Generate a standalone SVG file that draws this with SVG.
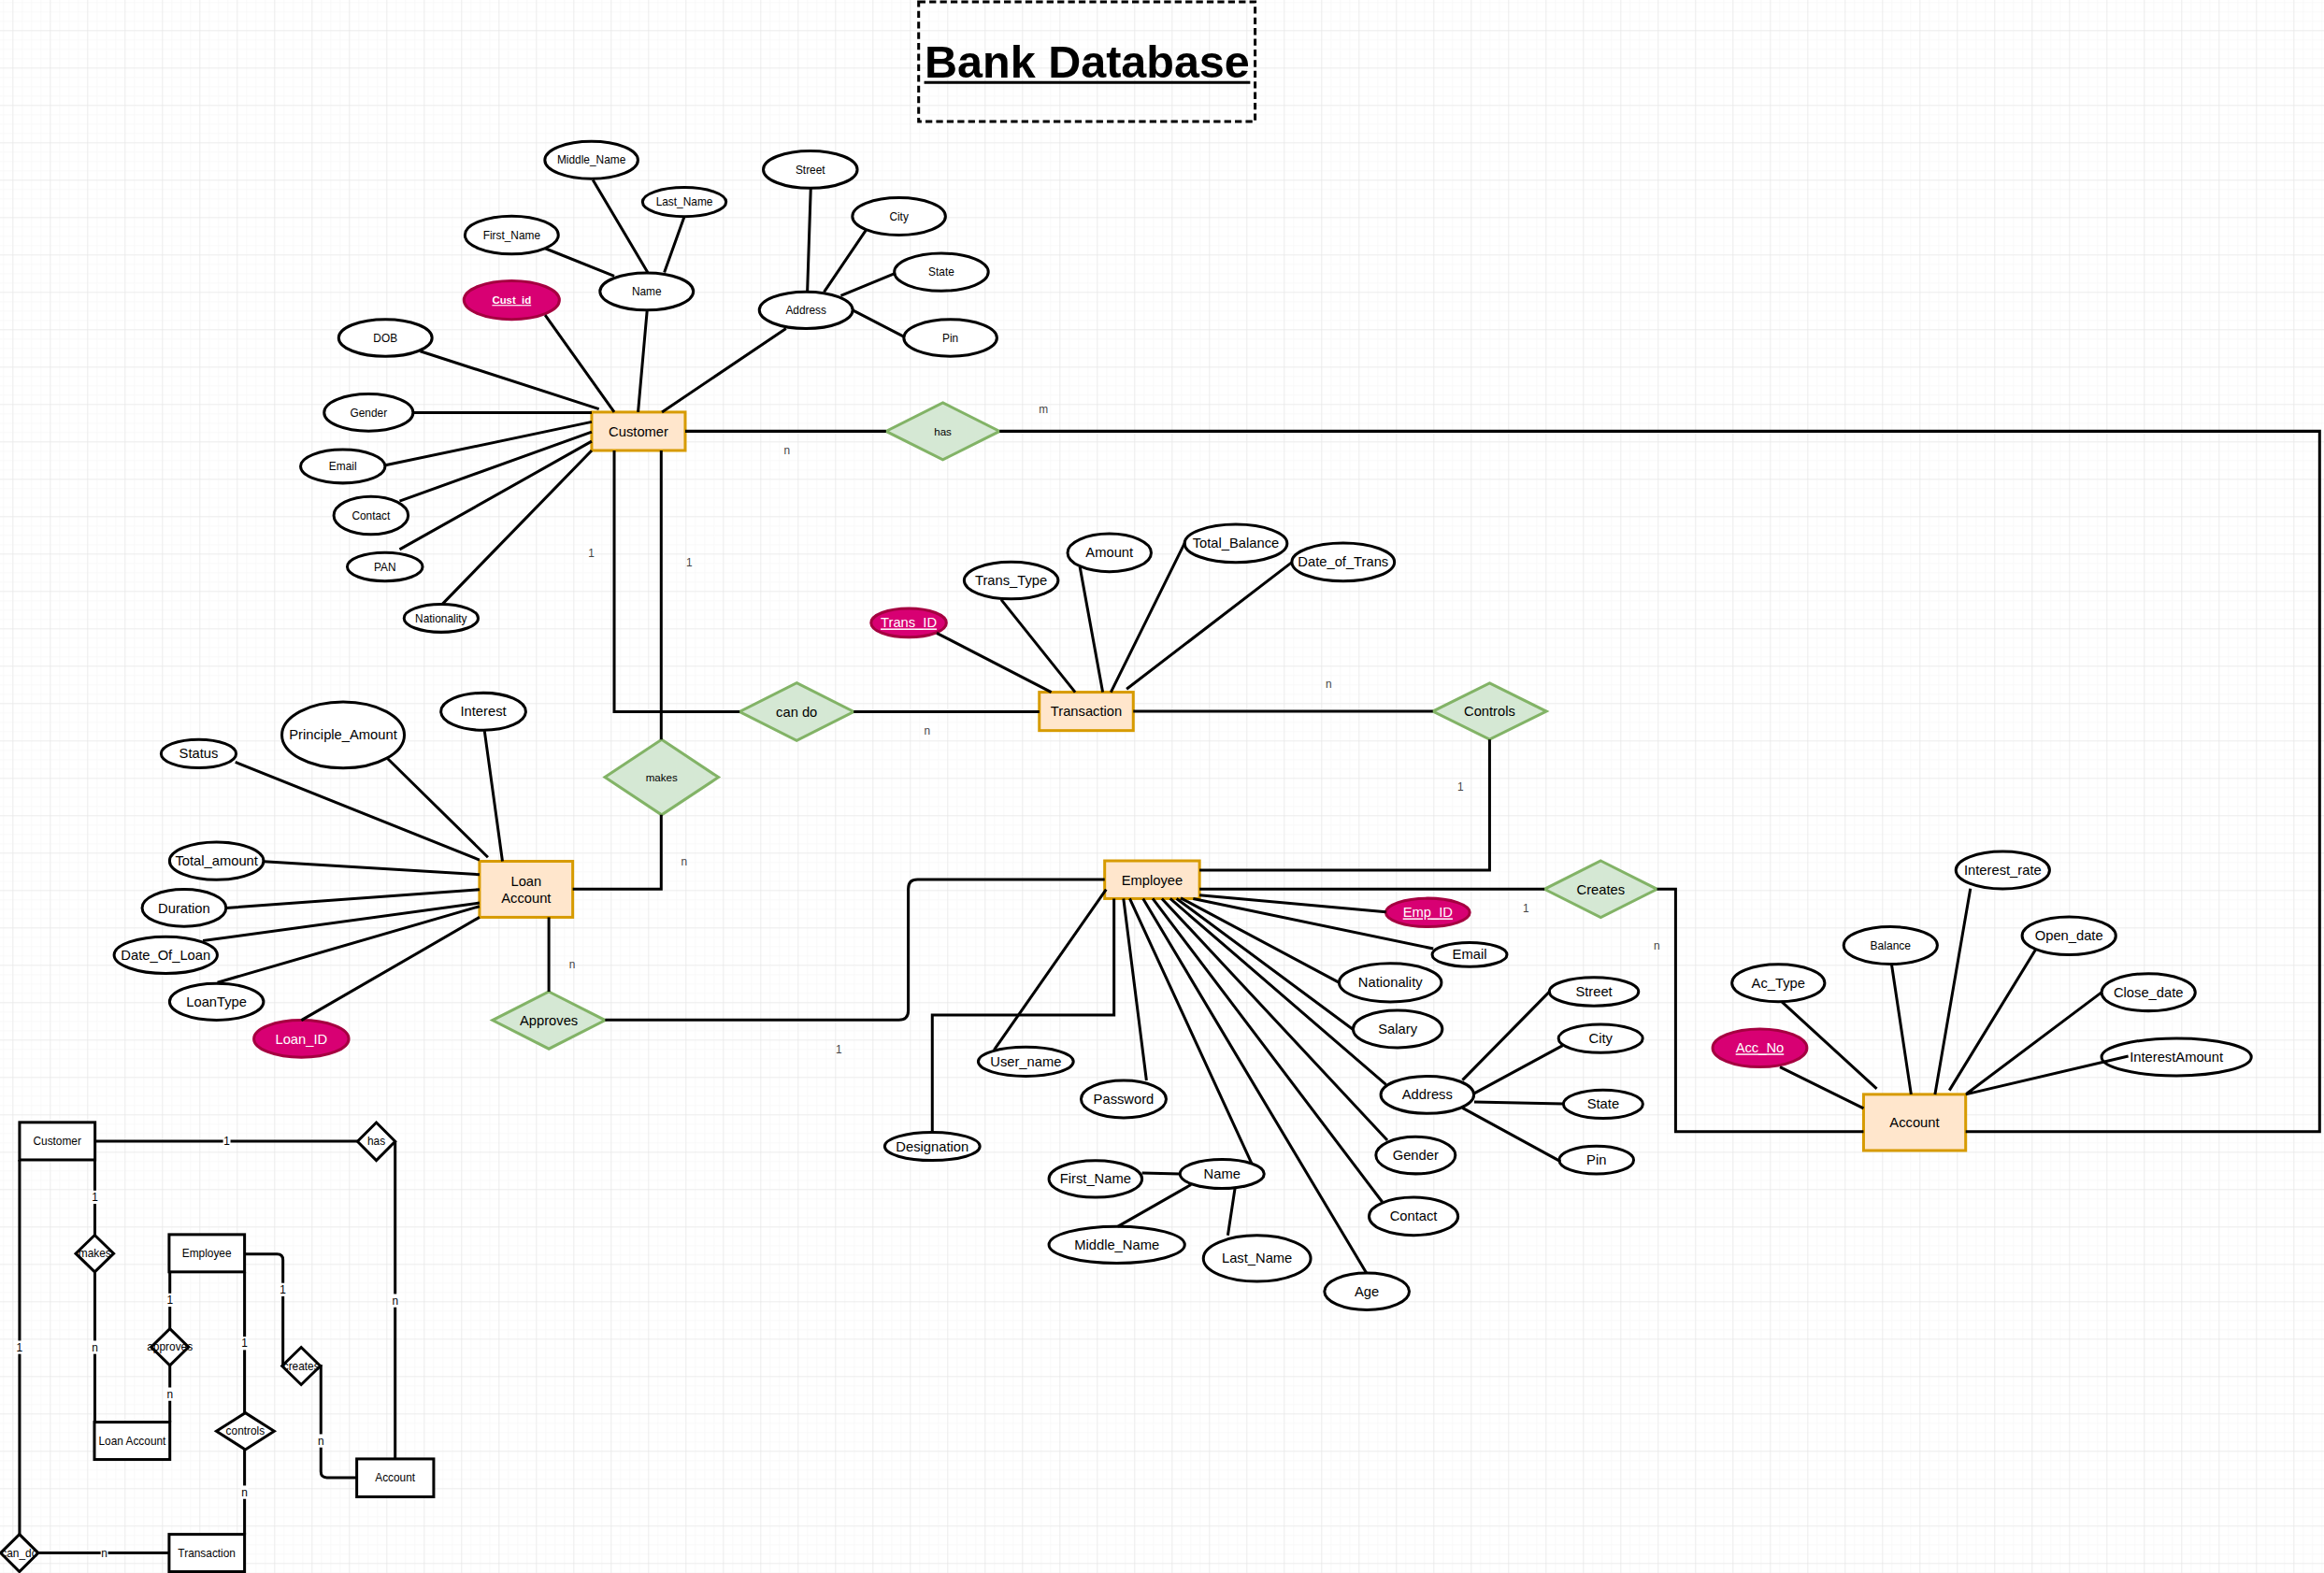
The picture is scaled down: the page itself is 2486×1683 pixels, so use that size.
<svg xmlns="http://www.w3.org/2000/svg" width="2486" height="1683" viewBox="0 0 2486 1683">
<style>
.ent{fill:#ffe6cc;stroke:#d79b00;stroke-width:1.9}
.at{fill:#fff;stroke:#000;stroke-width:1.9}
.key{fill:#d80073;stroke:#a50040;stroke-width:1.9}
.rel{fill:#d5e8d4;stroke:#82b366;stroke-width:1.9}
.box{fill:#fff;stroke:#000;stroke-width:1.9}
.ln{fill:none;stroke:#000;stroke-width:1.9}
text{font-family:"Liberation Sans",Arial,Helvetica,sans-serif;text-anchor:middle;fill:#000}
.s{font-size:7.5px}
.m{font-size:9.3px}
.k{fill:#fff;text-decoration:underline}
.lb{font-size:7.5px;fill:#444}
.lbb{fill:#fff}
</style>
<defs>
<pattern id="minor" width="10" height="10" patternUnits="userSpaceOnUse" x="3.3" y="2.3"><path d="M10 0H0V10" fill="none" stroke="#f3f3f3" stroke-width="1"/></pattern>
<pattern id="major" width="40" height="40" patternUnits="userSpaceOnUse" x="13.3" y="32.3"><path d="M40 0H0V40" fill="none" stroke="#e2e2e2" stroke-width="1"/></pattern>
</defs>
<rect width="2486" height="1683" fill="#fff"/>
<rect width="2486" height="1683" fill="url(#minor)"/>
<rect width="2486" height="1683" fill="url(#major)"/>
<g transform="scale(1.5855)">
<g id="title">
<rect x="619.8" y="1.2" width="227" height="80.8" fill="none" stroke="#000" stroke-width="1.9" stroke-dasharray="4.6 2.6"/>
<text x="733.5" y="52.5" style="font-size:30.6px;font-weight:bold">Bank Database</text>
<line x1="623.5" y1="55.7" x2="843.5" y2="55.7" stroke="#000" stroke-width="1.9"/>
</g>
<!-- Customer -->
<g id="customer"><rect class="ent" x="399.2" y="278.1" width="63.1" height="25.9"/><text class="m" x="430.8" y="294.3">Customer</text></g>
<g id="c_middle_name"><ellipse class="at" cx="399" cy="108" rx="31.4" ry="12.6"/><text class="s" x="399" y="110.6">Middle_Name</text></g>
<g id="c_last_name"><ellipse class="at" cx="461.7" cy="136.3" rx="28.2" ry="9.8"/><text class="s" x="461.7" y="138.9">Last_Name</text></g>
<g id="c_first_name"><ellipse class="at" cx="345.2" cy="158.6" rx="31.5" ry="12.8"/><text class="s" x="345.2" y="161.2">First_Name</text></g>
<g id="c_name"><ellipse class="at" cx="436.3" cy="196.7" rx="31.5" ry="12.6"/><text class="s" x="436.3" y="199.3">Name</text></g>
<g id="c_cust_id"><ellipse class="key" cx="345.2" cy="202.5" rx="32.2" ry="13"/><text class="s k" x="345.2" y="205.1" style="font-weight:bold;font-size:7.2px">Cust_id</text></g>
<g id="c_street"><ellipse class="at" cx="546.7" cy="114.4" rx="31.7" ry="12.6"/><text class="s" x="546.7" y="117">Street</text></g>
<g id="c_city"><ellipse class="at" cx="606.5" cy="146" rx="31.4" ry="12.6"/><text class="s" x="606.5" y="148.6">City</text></g>
<g id="c_state"><ellipse class="at" cx="635.1" cy="183.6" rx="31.7" ry="12.7"/><text class="s" x="635.1" y="186.2">State</text></g>
<g id="c_address"><ellipse class="at" cx="543.8" cy="209.3" rx="31.5" ry="12.4"/><text class="s" x="543.8" y="211.9">Address</text></g>
<g id="c_pin"><ellipse class="at" cx="641.2" cy="228" rx="31.4" ry="12.4"/><text class="s" x="641.2" y="230.6">Pin</text></g>
<g id="c_dob"><ellipse class="at" cx="260" cy="228" rx="31.5" ry="12.5"/><text class="s" x="260" y="230.6">DOB</text></g>
<g id="c_gender"><ellipse class="at" cx="248.7" cy="278.4" rx="30" ry="12.5"/><text class="s" x="248.7" y="281">Gender</text></g>
<g id="c_email"><ellipse class="at" cx="231.3" cy="314.7" rx="28.5" ry="11.3"/><text class="s" x="231.3" y="317.3">Email</text></g>
<g id="c_contact"><ellipse class="at" cx="250.3" cy="347.8" rx="25.1" ry="12.8"/><text class="s" x="250.3" y="350.4">Contact</text></g>
<g id="c_pan"><ellipse class="at" cx="259.7" cy="382.5" rx="25.4" ry="9.6"/><text class="s" x="259.7" y="385.1">PAN</text></g>
<g id="c_nationality"><ellipse class="at" cx="297.6" cy="417.2" rx="25" ry="9.4"/><text class="s" x="297.6" y="419.8">Nationality</text></g>
<!-- Relationships -->
<g id="r_has"><polygon class="rel" points="636.1,271.8 674.4,291 636.1,310.2 597.8,291"/><text x="636.1" y="293.6" style="font-size:7.3px">has</text></g>
<g id="r_cando"><polygon class="rel" points="537.5,460.8 576,480.3 537.5,499.8 499,480.3"/><text class="m" x="537.5" y="483.6">can do</text></g>
<g id="r_makes"><polygon class="rel" points="446.4,499.1 484.7,524.5 446.4,549.9 408.1,524.5"/><text x="446.4" y="527.1" style="font-size:7.3px">makes</text></g>
<g id="r_controls"><polygon class="rel" points="1005,461 1043.3,480 1005,499 966.7,480"/><text class="m" x="1005" y="483.3">Controls</text></g>
<g id="r_approves"><polygon class="rel" points="370.3,669.2 408.3,688.5 370.3,707.8 332.3,688.5"/><text class="m" x="370.3" y="691.8">Approves</text></g>
<g id="r_creates"><polygon class="rel" points="1080,580.9 1118,600 1080,619.1 1042,600"/><text class="m" x="1080" y="603.3">Creates</text></g>
<!-- Transaction -->
<g id="transaction"><rect class="ent" x="701.2" y="467.1" width="63.4" height="25.9"/><text class="m" x="732.9" y="483.3">Transaction</text></g>
<g id="t_trans_id"><ellipse class="key" cx="613.1" cy="420.3" rx="25.4" ry="9.7"/><text class="m k" x="613.1" y="423.5">Trans_ID</text></g>
<g id="t_trans_type"><ellipse class="at" cx="682.2" cy="391.7" rx="31.7" ry="12.5"/><text class="m" x="682.2" y="394.9">Trans_Type</text></g>
<g id="t_amount"><ellipse class="at" cx="748.5" cy="373" rx="28.2" ry="12.8"/><text class="m" x="748.5" y="376.2">Amount</text></g>
<g id="t_total_balance"><ellipse class="at" cx="833.8" cy="366.7" rx="34.6" ry="12.8"/><text class="m" x="833.8" y="369.9">Total_Balance</text></g>
<g id="t_date_of_trans"><ellipse class="at" cx="906.2" cy="379.3" rx="34.6" ry="12.8"/><text class="m" x="906.2" y="382.5">Date_of_Trans</text></g>
<!-- Loan Account -->
<g id="loan_account"><rect class="ent" x="323.5" y="581.2" width="62.9" height="37.8"/><text class="m" x="355" y="598">Loan</text><text class="m" x="355" y="609.3">Account</text></g>
<g id="l_status"><ellipse class="at" cx="134" cy="508.6" rx="25.3" ry="9.6"/><text class="m" x="134" y="511.8">Status</text></g>
<g id="l_principle"><ellipse class="at" cx="231.5" cy="496" rx="41.3" ry="22.3"/><text class="m" x="231.5" y="499.2">Principle_Amount</text></g>
<g id="l_interest"><ellipse class="at" cx="326.1" cy="480.2" rx="28.6" ry="12.6"/><text class="m" x="326.1" y="483.4">Interest</text></g>
<g id="l_total_amount"><ellipse class="at" cx="146.1" cy="581" rx="31.7" ry="12.7"/><text class="m" x="146.1" y="584.2">Total_amount</text></g>
<g id="l_duration"><ellipse class="at" cx="124.2" cy="612.7" rx="28.3" ry="12.5"/><text class="m" x="124.2" y="615.9">Duration</text></g>
<g id="l_date_of_loan"><ellipse class="at" cx="111.8" cy="644.5" rx="34.8" ry="12.4"/><text class="m" x="111.8" y="647.7">Date_Of_Loan</text></g>
<g id="l_loantype"><ellipse class="at" cx="146.1" cy="676" rx="31.7" ry="12.4"/><text class="m" x="146.1" y="679.2">LoanType</text></g>
<g id="l_loan_id"><ellipse class="key" cx="203.3" cy="701" rx="32" ry="12.5"/><text class="m" x="203.3" y="704.2" style="fill:#fff">Loan_ID</text></g>
<!-- Employee -->
<g id="employee"><rect class="ent" x="745.3" y="580.9" width="64" height="25.5"/><text class="m" x="777.3" y="597">Employee</text></g>
<g id="e_emp_id"><ellipse class="key" cx="963.3" cy="615.8" rx="28.3" ry="9.6"/><text class="m k" x="963.3" y="619">Emp_ID</text></g>
<g id="e_email"><ellipse class="at" cx="991.5" cy="644.2" rx="25.2" ry="8.1"/><text class="m" x="991.5" y="647.4">Email</text></g>
<g id="e_nationality"><ellipse class="at" cx="938" cy="663.1" rx="34.5" ry="13"/><text class="m" x="938" y="666.3">Nationality</text></g>
<g id="e_salary"><ellipse class="at" cx="943" cy="694.4" rx="30.1" ry="12.6"/><text class="m" x="943" y="697.6">Salary</text></g>
<g id="e_address"><ellipse class="at" cx="963" cy="738.8" rx="31.4" ry="12.6"/><text class="m" x="963" y="742">Address</text></g>
<g id="e_street"><ellipse class="at" cx="1075.4" cy="669.2" rx="30.1" ry="9.6"/><text class="m" x="1075.4" y="672.4">Street</text></g>
<g id="e_city"><ellipse class="at" cx="1079.9" cy="700.8" rx="28.4" ry="9.6"/><text class="m" x="1079.9" y="704">City</text></g>
<g id="e_state"><ellipse class="at" cx="1081.6" cy="745.1" rx="26.8" ry="9.6"/><text class="m" x="1081.6" y="748.3">State</text></g>
<g id="e_pin"><ellipse class="at" cx="1077.1" cy="782.8" rx="25.1" ry="9.4"/><text class="m" x="1077.1" y="786">Pin</text></g>
<g id="e_gender"><ellipse class="at" cx="955.1" cy="779.6" rx="26.8" ry="12.5"/><text class="m" x="955.1" y="782.8">Gender</text></g>
<g id="e_contact"><ellipse class="at" cx="953.7" cy="820.8" rx="30" ry="12.8"/><text class="m" x="953.7" y="824">Contact</text></g>
<g id="e_age"><ellipse class="at" cx="922.2" cy="871.5" rx="28.6" ry="12.4"/><text class="m" x="922.2" y="874.7">Age</text></g>
<g id="e_name"><ellipse class="at" cx="824.5" cy="792.2" rx="28.4" ry="9.8"/><text class="m" x="824.5" y="795.4">Name</text></g>
<g id="e_first_name"><ellipse class="at" cx="739.1" cy="795.6" rx="31.4" ry="12.4"/><text class="m" x="739.1" y="798.8">First_Name</text></g>
<g id="e_middle_name"><ellipse class="at" cx="753.5" cy="840" rx="45.8" ry="12.4"/><text class="m" x="753.5" y="843.2">Middle_Name</text></g>
<g id="e_last_name"><ellipse class="at" cx="848.1" cy="849.2" rx="36.2" ry="15.5"/><text class="m" x="848.1" y="852.4">Last_Name</text></g>
<g id="e_password"><ellipse class="at" cx="758.1" cy="741.7" rx="28.7" ry="12.6"/><text class="m" x="758.1" y="744.9">Password</text></g>
<g id="e_user_name"><ellipse class="at" cx="692.1" cy="716.4" rx="32.1" ry="9.8"/><text class="m" x="692.1" y="719.6">User_name</text></g>
<g id="e_designation"><ellipse class="at" cx="629" cy="773.6" rx="32.1" ry="9.5"/><text class="m" x="629" y="776.8">Designation</text></g>
<!-- Account -->
<g id="account"><rect class="ent" x="1257.3" y="738.5" width="68.9" height="37.9"/><text class="m" x="1291.7" y="760.7">Account</text></g>
<g id="a_acc_no"><ellipse class="key" cx="1187.3" cy="707.2" rx="31.8" ry="12.8"/><text class="m k" x="1187.3" y="710.4">Acc_No</text></g>
<g id="a_ac_type"><ellipse class="at" cx="1199.8" cy="663.3" rx="31.3" ry="12.6"/><text class="m" x="1199.8" y="666.5">Ac_Type</text></g>
<g id="a_balance"><ellipse class="at" cx="1275.5" cy="638" rx="31.6" ry="12.6"/><text x="1275.5" y="640.7" style="font-size:7.6px">Balance</text></g>
<g id="a_interest_rate"><ellipse class="at" cx="1351.2" cy="587.2" rx="31.6" ry="12.6"/><text class="m" x="1351.2" y="590.4">Interest_rate</text></g>
<g id="a_open_date"><ellipse class="at" cx="1395.9" cy="631.5" rx="31.6" ry="12.8"/><text class="m" x="1395.9" y="634.7">Open_date</text></g>
<g id="a_close_date"><ellipse class="at" cx="1449.5" cy="669.6" rx="31.6" ry="12.6"/><text class="m" x="1449.5" y="672.8">Close_date</text></g>
<g id="a_interest_amount"><ellipse class="at" cx="1468.4" cy="713.3" rx="50.5" ry="12.6"/><text class="m" x="1468.4" y="716.5">InterestAmount</text></g>
<!-- Small overview diagram -->
<g id="s_customer"><rect class="box" x="13.2" y="757.4" width="50.9" height="25.3"/><text class="s" x="38.6" y="772.6">Customer</text></g>
<g id="s_account"><rect class="box" x="240.7" y="984.5" width="51.9" height="25.6"/><text class="s" x="266.6" y="999.9">Account</text></g>
<g id="s_loan_account"><rect class="box" x="63.7" y="959.7" width="50.9" height="25.2"/><text class="s" x="89.2" y="974.9">Loan Account</text></g>
<g id="s_employee"><rect class="box" x="114.1" y="833.1" width="50.9" height="25.2"/><text class="s" x="139.5" y="848.3">Employee</text></g>
<g id="s_transaction"><rect class="box" x="114.1" y="1035.4" width="50.9" height="25.2"/><text class="s" x="139.5" y="1050.6">Transaction</text></g>
<g id="s_has"><polygon class="box" points="253.9,757.5 266.6,770.3 253.9,783.1 241.2,770.3"/><text class="s" x="253.9" y="772.9">has</text></g>
<g id="s_makes"><polygon class="box" points="63.9,833.5 76.7,845.9 63.9,858.3 51.1,845.9"/><text class="s" x="63.9" y="848.5">makes</text></g>
<g id="s_approves"><polygon class="box" points="114.6,896.6 127.2,909 114.6,921.4 102,909"/><text class="s" x="114.6" y="911.6">approves</text></g>
<g id="s_controls"><polygon class="box" points="165.5,953.4 185,965.8 165.5,978.2 146,965.8"/><text class="s" x="165.5" y="968.4">controls</text></g>
<g id="s_can_do"><polygon class="box" points="13.1,1035.4 25.8,1048 13.1,1060.6 0.4,1048"/><text class="s" x="13.1" y="1050.6">can_do</text></g>
<g id="s_creates"><polygon class="box" points="203.2,909.2 216.1,921.8 203.2,934.4 190.3,921.8"/><text class="s" x="203.2" y="924.4">creates</text></g>
<!-- Connectors -->
<g id="connectors">
<path class="ln" d="M400,121.4L437,183.8M461.7,146.2L448.2,183.8M367.8,167.6L414.4,186.3M436.6,209.3L430.5,278.1M367.8,212.7L414.4,278.1M283.5,237L404.1,276M278.6,278.4L399.2,278.4M260,314L399.2,284.7M269.6,338.1L399.2,291.5M269.6,370.8L399.2,297.8M298.6,407.5L399.2,304M530.3,221.7L446.6,278.1M547,127L544.7,196.9M584.3,155.2L556,197M603.6,184.5L567.3,199.6M610,227.3L575.3,209.3"/>
<path class="ln" d="M158.8,514.3L323.5,580.3M261.6,512L329.2,578.5M326.9,493.3L339,581.2M178,581.4L323.5,590.2M152.6,612.7L323.5,600.3M136.9,634.8L323.5,609.3M146.7,663L323.5,611.6M203.3,688.5L323.5,619"/>
<path class="ln" d="M632,427.2L709.3,467.1M675.5,404.7L725.4,467.1M728.6,382.6L744,467.1M799.4,366.2L749.5,467.1M871.8,379.3L760.1,465"/>
<path class="ln" d="M746.3,600.2L670.7,708.5M758,606.4L773.5,729.1M762.2,606.4L844.5,785.2M771.2,606.4L921.9,859.1M777.7,606.4L932.6,811.1M783.9,606.4L936,769.5M789.5,606.4L935.1,731.8M793.8,606.4L912.9,694.7M796.6,606L903.6,663.1M805,606.4L967,640.2M809.3,604L935.1,615.4M986.7,728.9L1045.8,668.8M994.6,737.9L1054.3,705.5M994.6,743.6L1054.8,744.9M986.7,747.6L1052.8,783.7M770.5,791.5L796.1,792.2M754.3,827.6L803.6,799.4M828.4,833.7L833.2,802"/>
<path class="ln" d="M1200.9,720L1257.3,748M1202,675.9L1266.2,734.7M1276.2,650.6L1289.4,738.5M1329.4,599.6L1305.5,738.5M1373.4,640.8L1315.2,735.8M1418,669.6L1327,737.9M1435.9,712.7L1326.2,738.5"/>
<path class="ln" d="M462.3,291L597.8,291"/>
<path class="ln" d="M674.4,291L1565,291L1565,763.7L1326.2,763.7"/>
<path class="ln" d="M414.4,304L414.4,480.3L499,480.3"/>
<path class="ln" d="M446.1,304L446.1,499.1"/>
<path class="ln" d="M446.1,549.9L446.1,600L386.4,600"/>
<path class="ln" d="M370.3,619L370.3,669.2"/>
<path class="ln" d="M408.3,688.2L606.5,688.2Q612.8,688.2 612.8,681.9L612.8,599.8Q612.8,593.5 619.1,593.5L745.3,593.5"/>
<path class="ln" d="M576,480.3L701.2,480.3"/>
<path class="ln" d="M764.6,480L966.7,480"/>
<path class="ln" d="M1005,499L1005,587.2L809.3,587.2"/>
<path class="ln" d="M809.3,600L1042,600"/>
<path class="ln" d="M1118,600L1130.5,600L1130.5,763.7L1257.3,763.7"/>
<path class="ln" d="M751.6,606.4L751.6,684.9L629,684.9L629,764.1"/>
<text class="lb" x="530.9" y="306.5">n</text>
<text class="lb" x="704" y="278.6">m</text>
<text class="lb" x="399" y="376">1</text>
<text class="lb" x="465" y="382.5">1</text>
<text class="lb" x="625.6" y="495.6">n</text>
<text class="lb" x="896.5" y="464.1">n</text>
<text class="lb" x="985.3" y="533.5">1</text>
<text class="lb" x="461.5" y="584">n</text>
<text class="lb" x="386.1" y="653.6">n</text>
<text class="lb" x="566" y="710.6">1</text>
<text class="lb" x="1029.5" y="615.7">1</text>
<text class="lb" x="1117.8" y="641.1">n</text>
<!-- small diagram connectors -->
<path class="ln" d="M64.1,770.1L241.2,770.1M266.6,770.3L266.6,984.5M64,782.7L64,833.5M64,858.3L64,959.7M114.6,858.3L114.6,896.6M114.6,921.4L114.6,959.7M165,858.3L165,953.4M165,978.2L165,1035.4M13.2,782.7L13.2,1035.4M25.8,1048L114.1,1048"/>
<path class="ln" d="M165,846.2L186.9,846.2Q190.9,846.2 190.9,850.2L190.9,921.8"/>
<path class="ln" d="M216.1,921.8L216.5,921.8L216.5,993.1Q216.5,997.1 220.5,997.1L240.7,997.1"/>
<g class="lbb">
<rect x="150.5" y="765.6" width="5" height="9"/><rect x="264.1" y="873.2" width="5" height="9"/><rect x="61.5" y="803.4" width="5" height="9"/><rect x="61.5" y="904.7" width="5" height="9"/><rect x="112.1" y="872.8" width="5" height="9"/><rect x="112.1" y="936.3" width="5" height="9"/><rect x="162.5" y="902" width="5" height="9"/><rect x="162.5" y="1002.5" width="5" height="9"/><rect x="10.7" y="904.7" width="5" height="9"/><rect x="67.9" y="1043.5" width="5" height="9"/><rect x="188.4" y="865.8" width="5" height="9"/><rect x="214" y="967.8" width="5" height="9"/>
</g>
<text class="s" x="153" y="772.7">1</text>
<text class="s" x="266.6" y="880.3">n</text>
<text class="s" x="64" y="810.5">1</text>
<text class="s" x="64" y="911.8">n</text>
<text class="s" x="114.6" y="879.9">1</text>
<text class="s" x="114.6" y="943.4">n</text>
<text class="s" x="165" y="909.1">1</text>
<text class="s" x="165" y="1009.6">n</text>
<text class="s" x="13.2" y="911.8">1</text>
<text class="s" x="70.4" y="1050.6">n</text>
<text class="s" x="190.9" y="872.9">1</text>
<text class="s" x="216.5" y="974.9">n</text>
</g>
</g>
</svg>
